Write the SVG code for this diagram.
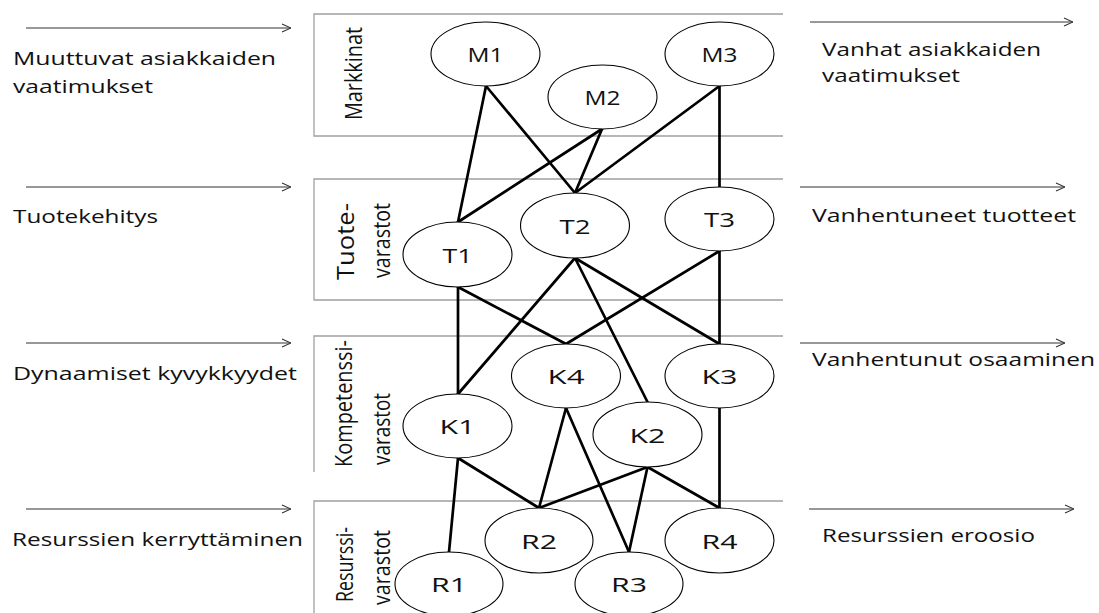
<svg xmlns="http://www.w3.org/2000/svg" width="1099" height="613" viewBox="0 0 1099 613">
<style>
.bg{fill:#ffffff}
.box{fill:none;stroke:#a0a0a0;stroke-width:1.3}
.flow{fill:none;stroke:#333333;stroke-width:1.1}
.edge{stroke:#000000;stroke-width:2.7;stroke-linecap:round}
.node ellipse{fill:#ffffff;stroke:#000000;stroke-width:1.1}
.nl{font-family:"Open Sans","DejaVu Sans",sans-serif;font-size:20px;fill:#111111;text-anchor:middle}
.t{font-family:"Open Sans","DejaVu Sans",sans-serif;font-size:18px;fill:#111111}
.v{font-family:"Open Sans","DejaVu Sans",sans-serif;font-size:24px;fill:#111111}
</style>
<defs>
<marker id="chev" viewBox="0 0 10 10" refX="10" refY="5" markerWidth="10" markerHeight="10" markerUnits="userSpaceOnUse" orient="auto">
<path d="M1,1 L10,5 L1,9" fill="none" stroke="#333333" stroke-width="1.1"/>
</marker>
</defs>
<rect class="bg" x="0" y="0" width="1099" height="613"/>

<g id="layers">
<path class="box" d="M783,14 H314 V136 H783"/>
<path class="box" d="M783,179 H314 V300 H783"/>
<path class="box" d="M783,336 H314 V472"/>
<path class="box" d="M783,501 H314 V613"/>
<text class="v" transform="translate(362,120) rotate(-90)" textLength="93" lengthAdjust="spacingAndGlyphs">Markkinat</text>
<text class="v" transform="translate(354,280) rotate(-90)" textLength="77" lengthAdjust="spacingAndGlyphs">Tuote-</text>
<text class="v" transform="translate(390,278) rotate(-90)" textLength="75" lengthAdjust="spacingAndGlyphs">varastot</text>
<text class="v" transform="translate(352,467) rotate(-90)" textLength="127" lengthAdjust="spacingAndGlyphs">Kompetenssi-</text>
<text class="v" transform="translate(390,465) rotate(-90)" textLength="72" lengthAdjust="spacingAndGlyphs">varastot</text>
<text class="v" transform="translate(353,602) rotate(-90)" textLength="75" lengthAdjust="spacingAndGlyphs">Resurssi-</text>
<text class="v" transform="translate(390,605) rotate(-90)" textLength="75" lengthAdjust="spacingAndGlyphs">varastot</text>
</g>

<g id="flows">
<line class="flow" x1="26" y1="28" x2="291" y2="28" marker-end="url(#chev)"/>
<line class="flow" x1="26" y1="187" x2="291" y2="187" marker-end="url(#chev)"/>
<line class="flow" x1="26" y1="343" x2="291" y2="343" marker-end="url(#chev)"/>
<line class="flow" x1="26" y1="509" x2="291" y2="509" marker-end="url(#chev)"/>
<line class="flow" x1="810" y1="22" x2="1073" y2="22" marker-end="url(#chev)"/>
<line class="flow" x1="800" y1="187" x2="1065" y2="187" marker-end="url(#chev)"/>
<line class="flow" x1="800" y1="343" x2="1065" y2="343" marker-end="url(#chev)"/>
<line class="flow" x1="809" y1="509" x2="1074" y2="509" marker-end="url(#chev)"/>
</g>

<g id="flow-labels">
<text class="t" x="13" y="65" textLength="263" lengthAdjust="spacingAndGlyphs">Muuttuvat asiakkaiden</text>
<text class="t" x="13" y="93" textLength="140" lengthAdjust="spacingAndGlyphs">vaatimukset</text>
<text class="t" x="13" y="223" textLength="145" lengthAdjust="spacingAndGlyphs">Tuotekehitys</text>
<text class="t" x="13" y="380" textLength="284" lengthAdjust="spacingAndGlyphs">Dynaamiset kyvykkyydet</text>
<text class="t" x="12" y="546" textLength="291" lengthAdjust="spacingAndGlyphs">Resurssien kerryttäminen</text>
<text class="t" x="822" y="56" textLength="219" lengthAdjust="spacingAndGlyphs">Vanhat asiakkaiden</text>
<text class="t" x="822" y="82" textLength="138" lengthAdjust="spacingAndGlyphs">vaatimukset</text>
<text class="t" x="812" y="222" textLength="264" lengthAdjust="spacingAndGlyphs">Vanhentuneet tuotteet</text>
<text class="t" x="812" y="366" textLength="283" lengthAdjust="spacingAndGlyphs">Vanhentunut osaaminen</text>
<text class="t" x="822" y="542" textLength="213" lengthAdjust="spacingAndGlyphs">Resurssien eroosio</text>
</g>

<g id="connectors">
<line class="edge" x1="486" y1="86" x2="458" y2="222"/>
<line class="edge" x1="486" y1="86" x2="575" y2="193"/>
<line class="edge" x1="602" y1="129" x2="458" y2="222"/>
<line class="edge" x1="602" y1="129" x2="575" y2="193"/>
<line class="edge" x1="719.5" y1="86" x2="575" y2="193"/>
<line class="edge" x1="719.5" y1="86" x2="719.5" y2="187"/>
<line class="edge" x1="458" y1="287" x2="458" y2="394"/>
<line class="edge" x1="458" y1="287" x2="566" y2="344"/>
<line class="edge" x1="575" y1="258" x2="458" y2="394"/>
<line class="edge" x1="575" y1="258" x2="647.5" y2="402"/>
<line class="edge" x1="575" y1="258" x2="719.5" y2="344"/>
<line class="edge" x1="719.5" y1="251" x2="566" y2="344"/>
<line class="edge" x1="719.5" y1="251" x2="719.5" y2="344"/>
<line class="edge" x1="458" y1="458" x2="449" y2="552"/>
<line class="edge" x1="458" y1="458" x2="539" y2="508"/>
<line class="edge" x1="566" y1="408" x2="539" y2="508"/>
<line class="edge" x1="566" y1="408" x2="629" y2="552"/>
<line class="edge" x1="647.5" y1="467" x2="539" y2="508"/>
<line class="edge" x1="647.5" y1="467" x2="629" y2="552"/>
<line class="edge" x1="647.5" y1="467" x2="719.5" y2="508"/>
<line class="edge" x1="719.5" y1="408" x2="719.5" y2="508"/>
</g>

<g id="M1" class="node"><ellipse cx="485.5" cy="54" rx="54.5" ry="32"/><text class="nl" x="485.5" y="62" textLength="36" lengthAdjust="spacingAndGlyphs">M1</text></g>
<g id="M2" class="node"><ellipse cx="602.5" cy="97" rx="54.5" ry="32"/><text class="nl" x="602.5" y="105" textLength="36" lengthAdjust="spacingAndGlyphs">M2</text></g>
<g id="M3" class="node"><ellipse cx="719.5" cy="54" rx="54.5" ry="32"/><text class="nl" x="719.5" y="62" textLength="36" lengthAdjust="spacingAndGlyphs">M3</text></g>
<g id="T1" class="node"><ellipse cx="457.5" cy="254.5" rx="54.5" ry="32.5"/><text class="nl" x="457.5" y="263" textLength="30" lengthAdjust="spacingAndGlyphs">T1</text></g>
<g id="T2" class="node"><ellipse cx="575" cy="225.5" rx="54.5" ry="32.5"/><text class="nl" x="575" y="234" textLength="31" lengthAdjust="spacingAndGlyphs">T2</text></g>
<g id="T3" class="node"><ellipse cx="719.5" cy="219" rx="54.5" ry="32"/><text class="nl" x="719.5" y="227" textLength="31" lengthAdjust="spacingAndGlyphs">T3</text></g>
<g id="K1" class="node"><ellipse cx="457.5" cy="426" rx="54.5" ry="32"/><text class="nl" x="457.5" y="434" textLength="36" lengthAdjust="spacingAndGlyphs">K1</text></g>
<g id="K2" class="node"><ellipse cx="647.5" cy="434.5" rx="54.5" ry="32.5"/><text class="nl" x="647.5" y="443" textLength="36" lengthAdjust="spacingAndGlyphs">K2</text></g>
<g id="K3" class="node"><ellipse cx="719.5" cy="376" rx="54.5" ry="32"/><text class="nl" x="719.5" y="384" textLength="36" lengthAdjust="spacingAndGlyphs">K3</text></g>
<g id="K4" class="node"><ellipse cx="566" cy="376" rx="54.5" ry="32"/><text class="nl" x="566" y="384" textLength="37" lengthAdjust="spacingAndGlyphs">K4</text></g>
<g id="R1" class="node"><ellipse cx="449" cy="584" rx="54" ry="32"/><text class="nl" x="449" y="592" textLength="36" lengthAdjust="spacingAndGlyphs">R1</text></g>
<g id="R2" class="node"><ellipse cx="539" cy="540.5" rx="54" ry="32.5"/><text class="nl" x="539" y="549" textLength="36" lengthAdjust="spacingAndGlyphs">R2</text></g>
<g id="R3" class="node"><ellipse cx="629" cy="584" rx="54" ry="32"/><text class="nl" x="629" y="592" textLength="36" lengthAdjust="spacingAndGlyphs">R3</text></g>
<g id="R4" class="node"><ellipse cx="719.5" cy="540.5" rx="54.5" ry="32.5"/><text class="nl" x="719.5" y="549" textLength="36" lengthAdjust="spacingAndGlyphs">R4</text></g>
</svg>
